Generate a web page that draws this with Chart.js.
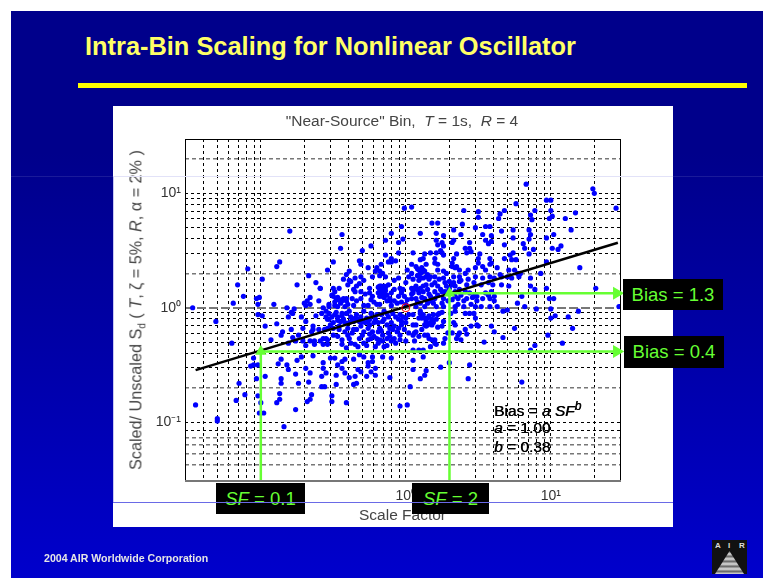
<!DOCTYPE html>
<html>
<head>
<meta charset="utf-8">
<title>Intra-Bin Scaling for Nonlinear Oscillator</title>
<script src="https://cdn.jsdelivr.net/npm/chart.js@4"></script>
<style>
  html, body { margin: 0; padding: 0; background: #fff; overflow: hidden; }
  body { width: 763px; height: 578px; position: relative; font-family: "Liberation Sans", Arial, sans-serif; }
  .abs { position: absolute; white-space: nowrap; }
  #slide { left: 11px; top: 11px; width: 752px; height: 567px; background: linear-gradient(#00008b 0%, #00008b 25%, #0000a8 60%, #0000cc 100%); }
  #rule { left: 78px; top: 83px; width: 669px; height: 5px; background: #ffff00; }
  #panel { left: 113px; top: 106px; width: 560px; height: 421px; background: #fff; }
  #heading { left: 85px; top: 32px; font-size: 25.4px; font-weight: bold; color: #ffff66; }
  #footer { left: 44px; top: 552px; font-size: 10.6px; font-weight: bold; color: #e6e6e6; }
  #chartTitle { left: 402px; top: 121px; transform: translate(-50%, -50%); font-size: 15.5px; color: #444; white-space: pre; }
  #yTitle { left: 137px; top: 310px; transform: translate(-50%, -50%) rotate(-90deg); font-size: 16.2px; color: #444; white-space: pre; }
  #yTitle sub { font-size: 10px; }
  .fit { left: 494px; font-size: 15.5px; color: #000; text-shadow: 0.4px 0 #000; }
  .tag { background: #000; color: #66ff33; font-size: 18.5px; text-align: center; }
  #logo { left: 712px; top: 540px; width: 35px; height: 34px; background: #111; color: #ddd; font-size: 8px; font-weight: bold; }
  #logoTri { left: 3px; top: 11px; width: 29px; height: 23px; background: repeating-linear-gradient(#555 0, #ddd 3px, #777 5px); clip-path: polygon(50% 0, 100% 100%, 0 100%); }
  .seam { left: 113px; width: 560px; height: 1px; }
</style>
</head>
<body>
<div id="slide" class="abs"></div>
<div id="rule" class="abs"></div>
<div id="heading" class="abs">Intra-Bin Scaling for Nonlinear Oscillator</div>
<div id="panel" class="abs"></div>
<canvas id="chart" class="abs" width="763" height="578" style="left:0;top:0"></canvas>
<div id="chartTitle" class="abs">"Near-Source" Bin,  <i>T</i> = 1s,  <i>R</i> = 4</div>
<div id="yTitle" class="abs">Scaled/ Unscaled S<sub>d</sub> ( <i>T</i>, ζ = 5%, <i>R</i>, α = 2% )</div>
<div class="abs fit" style="top:402px">Bias = <i>a SF</i><sup style="font-size:12px;line-height:0"><i>b</i></sup></div>
<div class="abs fit" style="top:419px"><i>a</i> = 1.00</div>
<div class="abs fit" style="top:438px"><i>b</i> = 0.38</div>
<div class="abs tag" style="left:623px;top:279px;width:100px;height:31px;line-height:31px">Bias = 1.3</div>
<div class="abs tag" style="left:624px;top:336px;width:100px;height:32px;line-height:32px">Bias = 0.4</div>
<div class="abs tag" style="left:216px;top:483px;width:89px;height:31px;line-height:31px"><i>SF</i> = 0.1</div>
<div class="abs tag" style="left:412px;top:483px;width:77px;height:31px;line-height:31px"><i>SF</i> = 2</div>
<div class="abs seam" style="top:502px;background:#6a6ae6"></div>
<div class="abs" style="left:113px;top:176px;width:1px;height:326px;background:#c8c8f4"></div>
<div class="abs seam" style="top:176px;background:#e2e2f8"></div>
<div class="abs" style="left:11px;top:176px;width:102px;height:1px;background:rgba(255,255,255,.1)"></div>
<div class="abs" style="left:673px;top:176px;width:90px;height:1px;background:rgba(255,255,255,.1)"></div>
<div id="footer" class="abs">2004 AIR Worldwide Corporation</div>
<div id="logo" class="abs">
  <span class="abs" style="left:3px;top:1px">A</span><span class="abs" style="left:16px;top:1px">I</span><span class="abs" style="left:27px;top:1px">R</span>
  <div id="logoTri" class="abs"></div>
</div>

<script>
// scatter values, in decades: log10(scale factor) and log10(scaled/unscaled Sd)
const farLeftLogSF = [-1.47,-.80,-.87,-.89,-1.09,-1.16,-1.19,-1.31,
  -.67,-.75,-.62,-.59,-.99,-1.12,-1.03,-1.01,-1.02,-.91,-.66,-.68,-.70,-.69,-.66,-.60,-.82,-.77,-.79,-.78,-.81,-.72,-.62,-.58,-.57,-.53,-1.02,-.99,-.97,-.89,-.69,-.64,-.64,-.60,-.85,-.86,-.79,-.71,-.65,-.55,-.54,-.93,-.74,-.78,-.81,-.76,-.71,-.69,-.66,-.63,-.59,-.54,-.63,
  -1.20,-1.05,-1.05,-1.07,-1.02,-.86,-.88,-.82,-.81,-.75,-.72,-.69,-.66,-1.03,-.97,-1.15,-.86,-.86,-.76,-.74,-.67,-1.02,-1.11,-1.17,-1.45,-1.00,-.87,-.87,-.89,-.76,-.68,-.65,-.66,-1.01,-.98,-1.30,-1.30,-.84,-.51,-.51,-.41,-.64];
const farLeftLogBias = [0,.67,.40,.36,.34,.20,.04,-.12,
  .28,.20,.22,.17,.25,.10,.08,.09,.03,.03,.09,.06,.04,.02,.03,.06,0,-.01,-.04,-.05,-.08,-.08,-.07,-.05,0,.01,-.06,-.07,-.16,-.14,-.12,-.16,-.19,-.19,-.21,-.24,-.19,-.18,-.21,-.08,-.10,-.28,-.24,-.26,-.31,-.29,-.29,-.33,-.29,-.29,-.29,-.28,-.32,
  -.31,-.44,-.50,-.51,-.50,-.45,-.49,-.50,-.54,-.46,-.43,-.53,-.57,-.62,-.60,-.66,-.62,-.66,-.58,-.66,-.65,-.77,-.76,-.81,-.85,-.83,-.75,-.80,-.83,-.89,-.82,-.76,-.80,-.92,-.92,-.97,-.99,-1.04,-.77,-.82,-.83,-.42];

const coreUpperLogSF = [-.44,-.45,-.50,-.54,-.24,-.30,-.14,-.10,-.14,-.05,-.02,-.05,-.32,-.31,-.26,-.17,-.12,-.10,-.07,-.10,-.21,-.20,-.18,-.16,-.23,-.18,-.14,-.39,-.41,-.43,-.39,-.38,-.35,-.34,-.32,-.29,-.31,-.40,-.36,-.35,-.59,-.50,-.49,-.46,-.50,-.48,-.46,-.44,-.41,-.41,-.34,-.31,-.24,-.23,-.25,-.25,-.18,-.16,-.17,-.15,-.12,-.16,-.13,-.11,-.08,-.10,-.08,-.05,-.04,-.02,0,.01,.02,-.03,-.01,.01,-.06,-.11,-.13,-.18,-.20,-.26,-.29,-.36,-.40,-.47,-.49,-.53,-.42,-.16,-.15,-.18,-.17,0,
  -.19,-.17,-.14,-.19,-.14,-.18,-.15,-.51,-.47,-.43,-.49,-.45,-.28,-.22,-.10,-.05,-.08,-.31,-.37,-.03];
const coreUpperLogBias = [.64,.52,.40,.33,.54,.50,.46,.65,.59,.57,.60,.48,.41,.38,.35,.38,.40,.40,.41,.43,.32,.35,.32,.30,.27,.28,.27,.32,.29,.25,.24,.23,.26,.19,.21,.24,.27,.20,.16,.14,.17,.17,.14,.17,.10,.07,.07,.06,.08,.06,.06,.08,.07,.10,.17,.13,.19,.17,.14,.13,.20,.10,.11,.08,.16,.13,.24,.26,.17,.16,.22,.33,.27,.13,.10,.07,.04,.06,.06,.03,.03,.02,.02,.02,.03,.01,.02,.03,.01,.16,.19,.16,.11,.03,
  .18,.19,.18,.13,.15,.10,.09,.11,.09,.08,.05,.04,.12,.05,.02,.10,.06,.14,.08,.05];

const coreLowerLogSF = [-.53,-.51,-.53,-.50,-.49,-.47,-.43,-.42,-.46,-.41,-.38,-.36,-.34,-.31,-.29,-.27,-.24,-.21,-.19,-.17,-.16,-.12,-.09,-.05,-.02,0,.02,
  -.56,-.54,-.50,-.46,-.40,-.40,-.36,-.34,-.29,-.26,-.23,-.19,-.16,-.13,-.09,-.04,-.01,.02,
  -.57,-.55,-.57,-.54,-.44,-.44,-.41,-.38,-.35,-.33,-.29,-.26,-.24,-.21,-.18,-.16,-.15,-.10,-.04,0,-.08,
  -.57,-.52,-.49,-.47,-.44,-.42,-.44,-.36,-.32,-.29,-.26,-.23,-.23,-.26,-.21,-.24,-.16,-.10,
  -.57,-.55,-.58,-.48,-.42,-.33,-.31,-.35,-.39,-.27,-.21,-.11,-.48,-.56,-.36,-.34,-.58,
  -.55,-.48,-.44,-.39,-.35,-.32,-.28,-.25,-.20,-.15,-.13,-.10,-.08,-.03,0,-.52,-.45,-.39,-.31,-.25,-.18,-.11,-.04,-.39,-.32,-.20,-.12,-.05,
  -.47,-.44,-.37,-.33,-.30,-.26,-.22,-.15,-.13,-.07,-.03,-.37,-.30,-.25,-.22,-.17,-.11,-.06,-.47,-.42,-.50,-.27,-.19,-.13,-.07];
const coreLowerLogBias = [-.05,-.08,-.10,-.13,-.06,-.08,-.10,-.13,-.16,-.05,-.08,-.12,-.06,-.08,-.03,-.09,-.05,-.10,-.13,-.06,-.12,-.08,-.05,-.10,-.08,-.13,-.06,
  -.19,-.18,-.18,-.19,-.18,-.24,-.19,-.19,-.21,-.18,-.21,-.21,-.24,-.27,-.19,-.24,-.19,-.22,
  -.27,-.27,-.32,-.32,-.28,-.32,-.35,-.31,-.32,-.34,-.31,-.28,-.27,-.34,-.28,-.29,-.34,-.29,-.28,-.29,-.27,
  -.48,-.44,-.44,-.50,-.47,-.45,-.53,-.45,-.41,-.43,-.48,-.43,-.47,-.51,-.53,-.56,-.43,-.44,
  -.53,-.57,-.60,-.59,-.57,-.54,-.56,-.60,-.61,-.60,-.59,-.61,-.67,-.69,-.67,-.66,-.69,
  -.03,-.04,-.05,-.03,-.09,-.12,-.13,-.10,-.06,-.03,-.15,-.13,-.16,-.15,-.09,-.15,-.12,-.13,-.16,-.15,-.18,-.18,-.06,-.27,-.27,-.27,-.22,-.18,
  -.11,-.07,-.11,-.10,-.12,-.12,-.13,-.10,-.05,-.08,-.12,-.22,-.24,-.23,-.25,-.20,-.25,-.21,-.25,-.21,-.24,-.33,-.31,-.33,-.31];

const midUpperLogSF = [.10,.21,.26,.38,.53,.59,.21,.22,.25,.26,.24,.33,.32,.44,.41,.44,.45,.55,.57,.59,
  .05,.10,.13,.17,.21,.25,.12,.20,.26,.35,.33,.32,.42,.51,.50,.58,.59,.53,.50,
  .04,.08,.11,.14,.20,.22,.32,.34,.35,.43,.41,.48,.55,.58,.63,
  .04,.10,.13,.14,.17,.20,.22,.26,.28,.33,.37,.37,.43,.48,.53,.58,.61,.12,.10,.05,.23,.26,.27,.30,.32,.34,.37,.42,.47,.52,.57,.60,
  .04,.06,.12,.14,.18,.20,.22,.28,.30,.34,.37,.41,.05,.09,.12,.15,.20,.25,.27,.29,.22,.04,.07,.13,.17,.20,.26,.34,.36,.42,.47,.49,.57,.61,.10,.15,.19,.25,.29,.36,.40,.45,.49,.53,.58,.61,.07,.13,.21,.26,.34,.40,.48,.52,.58,.63,
  .07,.09,.11,.08,.12,.15,.16,.09,.05,.08,.07,.10,.04,.30,.32,.38,.44,.46,.24,.17,.11,.38,.16,.08,.55,.59,.33];
const midUpperLogBias = [.65,.65,.63,.64,.64,.63,.59,.55,.57,.54,.50,.59,.57,.57,.52,.52,.49,.59,.56,.58,
  .48,.42,.47,.48,.48,.48,.43,.43,.46,.47,.43,.39,.48,.47,.43,.43,.39,.36,.39,
  .38,.34,.35,.38,.39,.38,.36,.35,.36,.33,.30,.35,.33,.38,.35,
  .30,.30,.32,.27,.27,.27,.33,.32,.30,.27,.27,.33,.25,.27,.26,.27,.26,.26,.26,.25,.25,.26,.22,.23,.20,.19,.23,.20,.22,.20,.22,.20,
  .17,.17,.19,.20,.20,.22,.19,.19,.17,.14,.16,.14,.13,.13,.14,.16,.14,.14,.14,.14,.11,.08,.08,.08,.10,.08,.08,.10,.08,.08,.10,.10,.11,.10,.04,.04,.04,.04,.06,.03,.06,.03,.06,.08,.08,.06,.01,.01,.01,.01,.01,.01,.01,.01,.01,.01,
  .36,.33,.31,.28,.33,.29,.25,.24,.15,.16,.19,.17,.12,.12,.07,.11,.13,.09,.16,.06,.09,.24,.12,.05,.13,.14,.22];

const midLowerLogSF = [.10,.12,.09,.13,.15,.18,.19,.22,.23,.13,.15,.17,.19,.14,.22,.26,.25,.34,.41,.44,.47,.48,.33,.34,.45,.49,.50,.59,.05,.09,.06,.05,.07,.11,.13,.15,.16,.18,.20,.20,.21,.06,.27,.26,.29,.32,.36,.37,.41,.35,.38,.42,.54,.61,.17,.12,.09,.05,.12,.05,.30,.44,.24,.14,.13,.10,.05,.43,.03,
  .11,.14,.18,.21,.07,.10,.16,.05,.25,.31,-.04,.01];
const midLowerLogBias = [-.05,-.06,-.09,-.09,-.09,-.10,-.06,-.06,-.05,-.15,-.15,-.13,-.13,-.16,-.17,-.12,-.16,-.03,-.05,-.05,-.05,-.09,-.13,-.15,-.16,-.15,-.16,-.16,-.15,-.25,-.22,-.24,-.21,-.19,-.24,-.24,-.27,-.28,-.28,-.31,-.32,-.29,-.27,-.31,-.22,-.22,-.24,-.22,-.19,-.27,-.28,-.23,-.30,-.21,-.34,-.37,-.37,-.37,-.43,-.46,-.48,-.50,-.52,-.55,-.59,-.62,-.54,-.62,-.69,
  -.09,-.12,-.15,-.10,-.15,-.03,-.07,-.06,-.04,-.05,-.86,-.85];

const rightLogSF = [.83,1.29,1.30,.76,.97,1.00,1.45,-.01,.04,.40,.50,.50,.68,.65,.64,.86,.89,.87,1.00,1.01,.99,1.10,1.17,.18,.22,.39,.48,.55,.58,-.03,.33,
  .66,.74,.85,.86,1.14,1.02,.68,.74,.85,.97,.81,.82,.88,1.01,1.05,1.07,.74,.85,.72,.97,.68,.73,.76,.71,.75,1.20,.93,.79,.78,.73,.70,.65,.86,.77,.66,.66,.71,.89,.97,1.31,.86,
  .80,.77,.82,.99,1.02,1.00,1.19,1.12,1.47,.70,.67,.90,1.03,1.00,1.15,.75,.67,.98,1.08,.89,.86,.80];
const rightLogBias = [1.08,1.04,1.00,.91,.94,.94,.87,.87,.88,.85,.84,.79,.85,.82,.78,.81,.85,.77,.85,.80,.78,.78,.83,.74,.74,.73,.70,.71,.71,.71,.68,
  .67,.68,.68,.64,.68,.64,.55,.61,.60,.61,.56,.52,.51,.52,.51,.54,.48,.47,.46,.40,.43,.42,.42,.33,.33,.35,.30,.30,.27,.26,.27,.29,.26,.30,.20,.27,.19,.16,.17,.17,.19,
  .10,.04,.01,.08,.08,-.01,-.03,-.08,.01,-.02,-.03,-.01,-.07,-.09,-.18,-.18,-.26,-.24,-.31,-.33,-.37,-.65];

// power-law fit, marked point and the two read-off guides
const fitSF = [0.0355, 29];
const fitBias = [0.285, 3.7];
const refSF = [1];
const refBias = [1];
const lowGuideSF = [0.1, 0.1, 28.5];
const lowGuideBias = [0.0312, 0.415, 0.415];
const highGuideSF = [2, 2, 28.5];
const highGuideBias = [0.0312, 1.34, 1.34];

const xGridValues = [0.04,0.05,0.06,0.07,0.08,0.09,0.1,0.2,0.3,0.4,0.5,0.6,0.7,0.8,0.9,1,2,3,4,5,6,7,8,9,10,20];
// the lowest decade of the picture sits stretched, so its lines are read as drawn
const yGridValues = [20,10,9,8,7,6,5,4,3,2,1,0.9,0.8,0.7,0.6,0.5,0.4,0.3,0.2,0.1,0.0853,0.0731,0.0635,0.053,0.0422];
const greyYLines = [20,2,0.2,0.0731,0.0635,0.053,0.0422];
const xTickLabels = { 0.1: '10\u207b\u00b9', 1: '10\u2070', 10: '10\u00b9' };
const yTickLabels = { 10: '10\u00b9', 1: '10\u2070', 0.1: '10\u207b\u00b9' };

const allLogSF = [...farLeftLogSF, ...coreUpperLogSF, ...coreLowerLogSF, ...midUpperLogSF, ...midLowerLogSF, ...rightLogSF];
const allLogBias = [...farLeftLogBias, ...coreUpperLogBias, ...coreLowerLogBias, ...midUpperLogBias, ...midLowerLogBias, ...rightLogBias];

const toPoints = (xs, ys) => xs.map((x, i) => ({ x: x, y: ys[i] }));
const scatterPoints = allLogSF.map((v, i) => ({ x: Math.pow(10, v), y: Math.pow(10, allLogBias[i]) }));

const GREEN = '#66ff33';
const FONT = '"Liberation Sans", Arial, sans-serif';

const plotFrame = {
  id: 'plotFrame',
  beforeDatasetsDraw(chart) {
    const a = chart.chartArea;
    const ctx = chart.ctx;
    ctx.save();
    ctx.strokeStyle = '#000';
    ctx.lineWidth = 1;
    ctx.strokeRect(a.left + 0.5, a.top + 0.5, a.width, a.height);
    ctx.strokeStyle = '#777';
    ctx.lineWidth = 2;
    ctx.beginPath();
    ctx.moveTo(a.left, a.bottom + 1);
    ctx.lineTo(a.right + 1, a.bottom + 1);
    ctx.stroke();
    ctx.restore();
  }
};

new Chart(document.getElementById('chart'), {
  type: 'scatter',
  data: {
    datasets: [
      { data: toPoints(refSF, refBias), order: 1, pointRadius: 4, pointBackgroundColor: 'transparent', pointBorderColor: '#ff0000', pointBorderWidth: 1 },
      { data: toPoints(lowGuideSF, lowGuideBias), order: 2, showLine: true, borderColor: GREEN, borderWidth: 2.5, clip: false,
        pointStyle: 'triangle', pointRadius: [0, 4, 5], pointRotation: [0, 0, 90], pointBackgroundColor: GREEN, pointBorderColor: GREEN },
      { data: toPoints(highGuideSF, highGuideBias), order: 2, showLine: true, borderColor: GREEN, borderWidth: 2.5, clip: false,
        pointStyle: 'triangle', pointRadius: [0, 4, 5], pointRotation: [0, 0, 90], pointBackgroundColor: GREEN, pointBorderColor: GREEN },
      { data: toPoints(fitSF, fitBias), order: 3, showLine: true, borderColor: '#000', borderWidth: 2.5, pointRadius: 0 },
      { data: scatterPoints, order: 4, pointRadius: 2.6, pointBorderWidth: 0, pointBackgroundColor: '#0000ff' }
    ]
  },
  plugins: [plotFrame],
  options: {
    responsive: false,
    animation: false,
    layout: { padding: { left: 0, top: 139, right: 143, bottom: 53 } },
    plugins: { legend: { display: false }, tooltip: { enabled: false }, title: { display: false } },
    scales: {
      x: {
        type: 'logarithmic',
        min: 0.03,
        max: 30,
        afterBuildTicks: (scale) => { scale.ticks = xGridValues.map(v => ({ value: v })); },
        afterFit: (scale) => { scale.height = 45; },
        grid: { color: '#000', lineWidth: 1, drawTicks: false },
        border: { display: false, dash: [3, 3] },
        ticks: {
          autoSkip: false, maxRotation: 0, padding: 8, color: '#333', font: { family: FONT, size: 14 },
          callback: (v) => xTickLabels[v] || ''
        },
        title: { display: true, text: 'Scale Factor', color: '#444', padding: 0, font: { family: FONT, size: 15.5 } }
      },
      y: {
        type: 'logarithmic',
        min: 0.0312,
        max: 29.85,
        afterBuildTicks: (scale) => { scale.ticks = yGridValues.map(v => ({ value: v })); },
        afterFit: (scale) => { scale.width = 185; },
        grid: {
          drawTicks: false,
          color: (c) => (c.tick && (greyYLines.includes(c.tick.value) || c.tick.value === 1)) ? '#777' : '#000',
          lineWidth: (c) => (c.tick && c.tick.value === 1) ? 2 : (c.tick && greyYLines.includes(c.tick.value) ? 1.5 : 1)
        },
        border: {
          display: false,
          dash: (c) => (c.tick && c.tick.value === 1) ? [9, 3] : (c.tick && greyYLines.includes(c.tick.value) ? [4, 3] : [3, 3])
        },
        ticks: {
          autoSkip: false, padding: 4, color: '#333', font: { family: FONT, size: 14 },
          callback: (v) => yTickLabels[v] || ''
        }
      }
    }
  }
});
</script>
</body>
</html>
